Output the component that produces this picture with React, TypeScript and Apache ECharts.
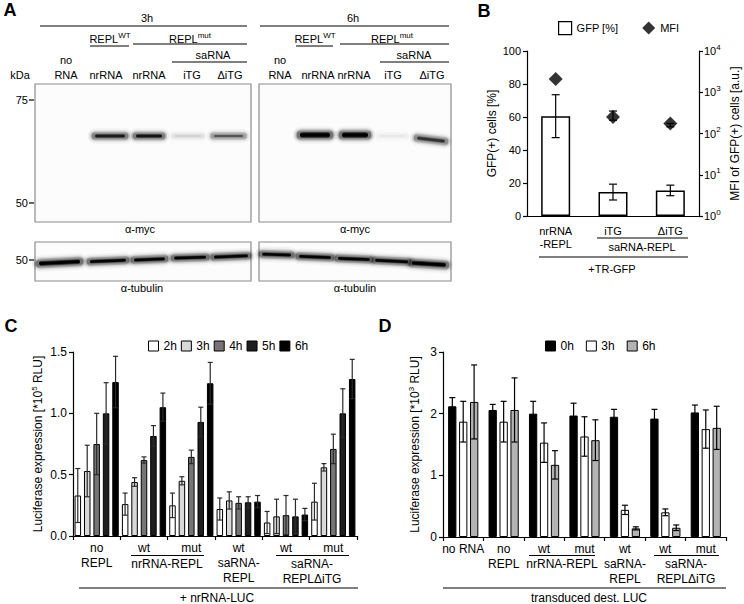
import React, { useEffect, useRef } from 'react';
import * as echarts from 'echarts';

const FONT = '"Liberation Sans", Arial, Helvetica, sans-serif';

// ---------- Panel B data ----------
const bCategories = ['nrRNA\n-REPL', 'iTG', 'ΔiTG'];
const gfpPercent = [60.5, 14.5, 15.5];
const gfpErr = [13, 4.8, 3.2];
const mfiValues = [2100, 250, 175];
const mfiLow = [2100, 210, 145];
const mfiHigh = [2100, 350, 175];
const bLeftTicks = { min: 0, max: 100, interval: 20 };

// ---------- Panel C data ----------
const cCategories = ['no\nREPL', 'wt', 'mut', 'wt\nsaRNA-\nREPL', 'wt', 'mut'];
const cNames = ['2h', '3h', '4h', '5h', '6h'];
const c2h = [0.33, 0.26, 0.25, 0.22, 0.11, 0.28];
const c2hErr = [0.22, 0.09, 0.1, 0.09, 0.09, 0.15];
const c3h = [0.53, 0.44, 0.45, 0.29, 0.16, 0.56];
const c3hErr = [0.21, 0.035, 0.033, 0.07, 0.14, 0.03];
const c4h = [0.75, 0.62, 0.645, 0.27, 0.17, 0.71];
const c4hErr = [0.25, 0.025, 0.055, 0.05, 0.16, 0.12];
const c5h = [1.0, 0.815, 0.93, 0.275, 0.16, 1.0];
const c5hErr = [0.25, 0.085, 0.12, 0.045, 0.14, 0.2];
const c6h = [1.255, 1.05, 1.245, 0.28, 0.175, 1.28];
const c6hErr = [0.21, 0.115, 0.17, 0.05, 0.05, 0.16];
const cColors = ['#ffffff', '#d9d9d9', '#757575', '#1e1e1e', '#000000'];

// ---------- Panel D data ----------
const dCategories = ['no RNA', 'no\nREPL', 'wt', 'mut', 'wt\nsaRNA-\nREPL', 'wt', 'mut'];
const dNames = ['0h', '3h', '6h'];
const d0h = [2.12, 2.06, 2.0, 1.97, 1.95, 1.92, 2.02];
const d0hErr = [0.14, 0.09, 0.2, 0.2, 0.12, 0.15, 0.12];
const d3h = [1.87, 1.87, 1.53, 1.63, 0.44, 0.4, 1.75];
const d3hErr = [0.33, 0.33, 0.32, 0.32, 0.075, 0.055, 0.31];
const d6h = [2.19, 2.06, 1.17, 1.57, 0.14, 0.15, 1.77];
const d6hErr = [0.6, 0.52, 0.23, 0.33, 0.025, 0.045, 0.35];
const dColors = ['#000000', '#ffffff', '#b3b3b3'];

const axisLine = { show: true, lineStyle: { color: '#000', width: 1.2 } };
const axisTick = { show: true, length: 4, lineStyle: { color: '#000', width: 1.2 } };

function errSeries(
  xi: number, yi: number, low: number[], high: number[], offset: number, cap: number, color: string, z = 5
) {
  return {
    type: 'custom',
    xAxisIndex: xi,
    yAxisIndex: yi,
    silent: true,
    z,
    data: low.map((l, i) => [i, l, high[i]]),
    encode: { x: 0, y: [1, 2] },
    renderItem: (params: any, api: any) => {
      const lo = api.value(1);
      const hi = api.value(2);
      if (hi === lo) return { type: 'group', children: [] };
      const p1 = api.coord([api.value(0), lo]);
      const p2 = api.coord([api.value(0), hi]);
      const x = p1[0] + offset;
      const st = { stroke: color, lineWidth: 1.2 };
      return {
        type: 'group',
        children: [
          { type: 'line', shape: { x1: x, y1: p1[1], x2: x, y2: p2[1] }, style: st },
          { type: 'line', shape: { x1: x - cap, y1: p1[1], x2: x + cap, y2: p1[1] }, style: st },
          { type: 'line', shape: { x1: x - cap, y1: p2[1], x2: x + cap, y2: p2[1] }, style: st },
        ],
      };
    },
  };
}

function lowOf(v: number[], e: number[]) {
  return v.map((x, i) => Math.max(0, x - e[i]));
}
function highOf(v: number[], e: number[]) {
  return v.map((x, i) => x + e[i]);
}

function txt(x: number, y: number, text: string, size = 11, extra: any = {}) {
  return {
    type: 'text',
    silent: true,
    style: {
      text,
      x,
      y,
      fill: '#000',
      font: `${extra.bold ? 'bold ' : ''}${size}px ${FONT}`,
      textAlign: extra.align || 'center',
      textVerticalAlign: 'middle',
      rich: extra.rich,
    },
  };
}
function ln(x1: number, y1: number, x2: number, y2: number, w = 1.2, color = '#000') {
  return { type: 'line', silent: true, shape: { x1, y1, x2, y2 }, style: { stroke: color, lineWidth: w } };
}
function box(x: number, y: number, w: number, h: number) {
  return {
    type: 'rect',
    silent: true,
    shape: { x, y, width: w, height: h },
    style: { fill: '#fcfcfc', stroke: '#8c8c8c', lineWidth: 1.2 },
  };
}
function hexA(color: string, a: number) {
  const c = color.replace('#', '');
  const r = parseInt(c.slice(0, 2), 16);
  const gg = parseInt(c.slice(2, 4), 16);
  const b = parseInt(c.slice(4, 6), 16);
  return `rgba(${r},${gg},${b},${a})`;
}
// a soft blot band: stacked rounded rects of falling opacity
function band(x1: number, x2: number, yc: number, h: number, color: string, rot = 0) {
  const layers = [
    { grow: 5, a: 0.08 },
    { grow: 3, a: 0.18 },
    { grow: 1.5, a: 0.4 },
    { grow: 0, a: 1 },
  ];
  return {
    type: 'group',
    silent: true,
    rotation: rot,
    originX: (x1 + x2) / 2,
    originY: yc,
    children: layers.map((l) => {
      const hh = h + l.grow * 2 - (l.grow === 0 ? 2 : 0);
      return {
        type: 'rect',
        shape: {
          x: x1 - l.grow + (l.grow === 0 ? 2 : 0),
          y: yc - hh / 2,
          width: x2 - x1 + l.grow * 2 - (l.grow === 0 ? 4 : 0),
          height: hh,
          r: hh / 2,
        },
        style: {
          fill: {
            type: 'linear', x: 0, y: 0, x2: 0, y2: 1,
            colorStops: [
              { offset: 0, color: hexA(color, l.a * 0.3) },
              { offset: 0.3, color: hexA(color, l.a) },
              { offset: 0.7, color: hexA(color, l.a) },
              { offset: 1, color: hexA(color, l.a * 0.3) },
            ],
          },
        },
      };
    }),
  };
}

const supRich = {
  s: { fontSize: 8, fontFamily: FONT, verticalAlign: 'top', lineHeight: 16, fill: '#000' },
};

function buildGraphic() {
  const g: any[] = [];
  // Panel letters
  g.push(txt(10, 10, 'A', 18, { bold: true }));
  g.push(txt(484, 11, 'B', 18, { bold: true }));
  g.push(txt(11, 326, 'C', 18, { bold: true }));
  g.push(txt(385, 326, 'D', 18, { bold: true }));

  // ---- Panel A header ----
  g.push(txt(147, 18, '3h'), ln(40, 26, 247, 26));
  g.push(txt(353, 18, '6h'), ln(260, 26, 449, 26));
  const rich = { s: { fontSize: 8, fontFamily: FONT, verticalAlign: 'top', lineHeight: 16 } };
  g.push(txt(110, 39, 'REPL{s|WT}', 11, { rich }), ln(90, 46, 129, 46));
  g.push(txt(190, 39, 'REPL{s|mut}', 11, { rich }), ln(133, 44, 247, 44));
  g.push(txt(315, 39, 'REPL{s|WT}', 11, { rich }), ln(296, 46, 333, 46));
  g.push(txt(392, 39, 'REPL{s|mut}', 11, { rich }), ln(340, 44, 449, 44));
  g.push(txt(213, 55, 'saRNA'), ln(172, 62, 247, 62));
  g.push(txt(414, 55, 'saRNA'), ln(380, 62, 449, 62));
  g.push(txt(66, 60, 'no'), txt(66, 75, 'RNA'), txt(280, 60, 'no'), txt(280, 75, 'RNA'));
  g.push(txt(20, 75, 'kDa'));
  [['nrRNA', 106], ['nrRNA', 149], ['iTG', 192], ['ΔiTG', 230], ['nrRNA', 318], ['nrRNA', 354], ['iTG', 393], ['ΔiTG', 432]].forEach(
    ([t, x]) => g.push(txt(x as number, 75, t as string))
  );
  // blot boxes
  g.push(box(35, 84, 216, 138), box(259, 84, 192, 138), box(35, 242, 216, 39), box(259, 242, 192, 39));
  // markers
  g.push(txt(28, 100, '75', 11, { align: 'right' }), ln(29, 100, 34, 100));
  g.push(txt(28, 203, '50', 11, { align: 'right' }), ln(29, 203, 34, 203));
  g.push(txt(28, 260, '50', 11, { align: 'right' }), ln(29, 260, 34, 260));
  g.push(txt(140, 229, 'α-myc'), txt(355, 229, 'α-myc'));
  g.push(txt(142, 288, 'α-tubulin'), txt(355, 288, 'α-tubulin'));
  // myc bands
  g.push(band(93, 127, 136, 6, '#1c1c1c'), band(134, 164, 136, 6, '#141414'));
  g.push(band(173, 203, 136, 4, '#cfcfcf'), band(212, 245, 136, 5, '#555555'));
  g.push(band(298, 332, 135, 8, '#000000'), band(340, 370, 135, 8, '#000000'));
  g.push(band(378, 407, 136, 4, '#e6e6e6'), band(415, 447, 139.5, 6, '#333333', -0.12));
  // tubulin bands
  g.push(band(37, 82, 262.5, 7, '#000000', 0.05), band(88, 128, 261, 6, '#050505', 0.04));
  g.push(band(132, 167, 259.5, 6, '#050505', 0.04), band(172, 208, 257.5, 6, '#050505', 0.03));
  g.push(band(212, 250, 256.5, 6, '#050505', 0.04));
  g.push(band(260, 293, 254.5, 6, '#050505', -0.03), band(297, 333, 257, 6, '#050505', -0.04));
  g.push(band(336, 372, 259, 6, '#050505', -0.04), band(373, 410, 261, 6, '#050505', -0.05));
  g.push(band(410, 448, 264, 7, '#000000', -0.06));

  // ---- Panel B annotations ----
  g.push(ln(597, 238, 688, 238), txt(642, 247, 'saRNA-REPL'));
  g.push(ln(539, 257, 688, 257), txt(612, 269, '+TR-GFP'));

  // ---- Panel C annotations ----
  g.push(ln(131, 555.5, 204, 555.5), txt(167, 563.5, 'nrRNA-REPL', 12));
  g.push(ln(276, 555.5, 349, 555.5), txt(312, 563.5, 'saRNA-', 12), txt(312, 578.5, 'REPLΔiTG', 12));
  g.push(ln(79, 588, 358, 588), txt(217, 598, '+ nrRNA-LUC', 12));

  // ---- Panel D annotations ----
  g.push(ln(529, 555.5, 595, 555.5), txt(562, 563.5, 'nrRNA-REPL', 12));
  g.push(ln(654, 555.5, 719, 555.5), txt(686, 563.5, 'saRNA-', 12), txt(686, 578.5, 'REPLΔiTG', 12));
  g.push(ln(443, 588, 726, 588), txt(589, 598, 'transduced dest. LUC', 12));
  return g;
}

function buildOption() {
  const cVals = [c2h, c3h, c4h, c5h, c6h];
  const cErrs = [c2hErr, c3hErr, c4hErr, c5hErr, c6hErr];
  const dVals = [d0h, d3h, d6h];
  const dErrs = [d0hErr, d3hErr, d6hErr];
  const cBarW = 6.5;
  const cPeriod = 9.45;
  const dBarW = 8.3;
  const dPeriod = 10.9;

  const series: any[] = [
    {
      type: 'bar', name: 'GFP [%]', xAxisIndex: 0, yAxisIndex: 0, data: gfpPercent, barWidth: 29,
      itemStyle: { color: '#fff', borderColor: '#000', borderWidth: 1.5 },
    },
    errSeries(0, 0, lowOf(gfpPercent, gfpErr), highOf(gfpPercent, gfpErr), 0, 4, '#000'),
    errSeries(0, 1, mfiLow, mfiHigh, 0, 4, '#000', 3),
    {
      type: 'scatter', name: 'MFI', xAxisIndex: 0, yAxisIndex: 1, data: mfiValues, symbol: 'diamond',
      symbolSize: [14, 14], itemStyle: { color: '#000' }, z: 6,
    },
  ];
  cVals.forEach((v, k) => {
    series.push({
      type: 'bar', name: cNames[k], xAxisIndex: 1, yAxisIndex: 2, data: v, barWidth: cBarW, barGap: '45%',
      itemStyle: { color: cColors[k], borderColor: '#000', borderWidth: 1 },
    });
  });
  cVals.forEach((v, k) => {
    series.push(errSeries(1, 2, lowOf(v, cErrs[k]), highOf(v, cErrs[k]), (k - 2) * cPeriod, 2.5, '#2a2a2a'));
  });
  dVals.forEach((v, k) => {
    series.push({
      type: 'bar', name: dNames[k], xAxisIndex: 2, yAxisIndex: 3, data: v, barWidth: dBarW, barGap: '32%',
      itemStyle: { color: dColors[k], borderColor: '#000', borderWidth: 1 },
    });
  });
  dVals.forEach((v, k) => {
    series.push(errSeries(2, 3, lowOf(v, dErrs[k]), highOf(v, dErrs[k]), (k - 1) * dPeriod, 3, '#000'));
  });

  const lbl = (size: number, extra: any = {}) => ({
    color: '#000', fontFamily: FONT, fontSize: size, ...extra,
  });

  return {
    animation: false,
    backgroundColor: '#fff',
    textStyle: { fontFamily: FONT, color: '#000' },
    graphic: buildGraphic(),
    legend: [
      {
        left: 553, top: 16, itemWidth: 13, itemHeight: 13, itemGap: 24, selectedMode: false,
        textStyle: { fontFamily: FONT, fontSize: 11, color: '#000' },
        data: [
          { name: 'GFP [%]', icon: 'rect', itemStyle: { color: '#fff', borderColor: '#000', borderWidth: 1.2 } },
          { name: 'MFI', icon: 'diamond', itemStyle: { color: '#000' } },
        ],
      },
      {
        left: 143, top: 335, itemWidth: 10, itemHeight: 10, itemGap: 4, selectedMode: false,
        textStyle: { fontFamily: FONT, fontSize: 12, color: '#000' },
        data: cNames.map((n, i) => ({
          name: n, icon: 'rect', itemStyle: { color: cColors[i], borderColor: '#000', borderWidth: 1 },
        })),
      },
      {
        left: 540, top: 335, itemWidth: 10, itemHeight: 10, itemGap: 12, selectedMode: false,
        textStyle: { fontFamily: FONT, fontSize: 12, color: '#000' },
        data: dNames.map((n, i) => ({
          name: n, icon: 'rect', itemStyle: { color: dColors[i], borderColor: '#000', borderWidth: 1 },
        })),
      },
    ],
    grid: [
      { left: 527, right: 45, top: 51, bottom: 388 },
      { left: 73, right: 387, top: 352, bottom: 68 },
      { left: 443, right: 18, top: 352, bottom: 67 },
    ],
    xAxis: [
      {
        type: 'category', gridIndex: 0, data: bCategories, axisLine, axisTick: { show: false },
        axisLabel: lbl(11, { margin: 8, lineHeight: 13 }),
      },
      {
        type: 'category', gridIndex: 1, data: cCategories, axisLine,
        axisTick: { ...axisTick, alignWithLabel: false, interval: 0 },
        axisLabel: lbl(12, { margin: 4.5, lineHeight: 15, interval: 0 }),
      },
      {
        type: 'category', gridIndex: 2, data: dCategories, axisLine,
        axisTick: { ...axisTick, alignWithLabel: false, interval: 0 },
        axisLabel: lbl(12, { margin: 4.5, lineHeight: 15, interval: 0 }),
      },
    ],
    yAxis: [
      {
        type: 'value', gridIndex: 0, ...bLeftTicks, axisLine, axisTick, splitLine: { show: false },
        axisLabel: lbl(11, { margin: 6 }),
        name: 'GFP(+) cells [%]', nameLocation: 'middle', nameRotate: 90, nameGap: 29,
        nameTextStyle: lbl(12),
      },
      {
        type: 'log', gridIndex: 0, logBase: 10, min: 1, max: 10000, position: 'right',
        axisLine, axisTick, splitLine: { show: false }, minorTick: { show: false },
        axisLabel: lbl(11, {
          margin: 5,
          formatter: (v: number) => '10{s|' + Math.round(Math.log10(v)) + '}',
          rich: supRich,
        }),
        name: 'MFI of GFP(+) cells [a.u.]', nameLocation: 'middle', nameRotate: 90, nameGap: 30,
        nameTextStyle: lbl(12),
      },
      {
        type: 'value', gridIndex: 1, min: 0, max: 1.5, interval: 0.5, axisLine, axisTick, splitLine: { show: false },
        axisLabel: lbl(12, { margin: 6, formatter: (v: number) => v.toFixed(1) }),
        name: 'Luciferase expression [*10{s|5} RLU]', nameLocation: 'middle', nameRotate: 90, nameGap: 27,
        nameTextStyle: lbl(12, { rich: supRich }),
      },
      {
        type: 'value', gridIndex: 2, min: 0, max: 3, interval: 1, axisLine, axisTick, splitLine: { show: false },
        axisLabel: lbl(12, { margin: 6 }),
        name: 'Luciferase expression [*10{s|3} RLU]', nameLocation: 'middle', nameRotate: 90, nameGap: 20,
        nameTextStyle: lbl(12, { rich: supRich }),
      },
    ],
    series,
  };
}

export default function App() {
  const ref = useRef<HTMLDivElement>(null);
  useEffect(() => {
    if (!ref.current) return;
    const chart = echarts.init(ref.current, null, { renderer: 'svg' });
    chart.setOption(buildOption() as any);
    return () => chart.dispose();
  }, []);
  return (
    <div
      ref={ref}
      style={{ position: 'absolute', left: 0, top: 0, width: 744, height: 604, background: '#fff' }}
    />
  );
}
